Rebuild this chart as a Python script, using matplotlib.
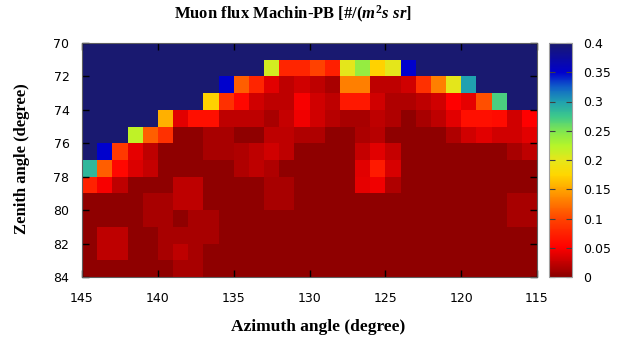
import numpy as np
import matplotlib
matplotlib.use("Agg")
import matplotlib.pyplot as plt
from matplotlib.colors import LinearSegmentedColormap

# Bin edges (degrees)
azimuth_edges = [145, 144, 143, 142, 141, 140, 139, 138, 137, 136, 135, 134, 133, 132, 131,
                 130, 129, 128, 127, 126, 125, 124, 123, 122, 121, 120, 119, 118, 117, 116, 115]
zenith_edges = [70, 71, 72, 73, 74, 75, 76, 77, 78, 79, 80, 81, 82, 83, 84]

# Muon flux per cell, one list per zenith row (70 -> 83), azimuth 145 -> 116
flux_70 = [0.40, 0.40, 0.40, 0.40, 0.40, 0.40, 0.40, 0.40, 0.40, 0.40, 0.40, 0.40, 0.40, 0.40, 0.40,
           0.40, 0.40, 0.40, 0.40, 0.40, 0.40, 0.40, 0.40, 0.40, 0.40, 0.40, 0.40, 0.40, 0.40, 0.40]
flux_71 = [0.40, 0.40, 0.40, 0.40, 0.40, 0.40, 0.40, 0.40, 0.40, 0.40, 0.40, 0.40, 0.21, 0.078, 0.078,
           0.098, 0.073, 0.20, 0.24, 0.172, 0.20, 0.35, 0.40, 0.40, 0.40, 0.40, 0.40, 0.40, 0.40, 0.40]
flux_72 = [0.40, 0.40, 0.40, 0.40, 0.40, 0.40, 0.40, 0.40, 0.40, 0.35, 0.114, 0.078, 0.038, 0.023, 0.031,
           0.023, 0.013, 0.131, 0.131, 0.023, 0.023, 0.030, 0.085, 0.131, 0.20, 0.30, 0.40, 0.40, 0.40, 0.40]
flux_73 = [0.40, 0.40, 0.40, 0.40, 0.40, 0.40, 0.40, 0.40, 0.172, 0.085, 0.055, 0.031, 0.023, 0.023, 0.048,
           0.031, 0.023, 0.068, 0.068, 0.030, 0.016, 0.016, 0.023, 0.031, 0.050, 0.040, 0.105, 0.27, 0.40, 0.40]
flux_74 = [0.40, 0.40, 0.40, 0.40, 0.40, 0.155, 0.038, 0.062, 0.062, 0.023, 0.023, 0.023, 0.013, 0.025, 0.045,
           0.030, 0.020, 0.013, 0.013, 0.023, 0.016, 0.003, 0.013, 0.023, 0.038, 0.062, 0.062, 0.058, 0.031, 0.050]
flux_75 = [0.40, 0.40, 0.40, 0.22, 0.114, 0.085, 0.003, 0.003, 0.013, 0.013, 0.003, 0.003, 0.023, 0.023, 0.016,
           0.016, 0.003, 0.003, 0.015, 0.020, 0.003, 0.003, 0.003, 0.003, 0.016, 0.031, 0.038, 0.031, 0.031, 0.038]
flux_76 = [0.40, 0.35, 0.092, 0.040, 0.023, 0.003, 0.003, 0.003, 0.013, 0.013, 0.016, 0.023, 0.031, 0.023, 0.003,
           0.003, 0.003, 0.003, 0.026, 0.038, 0.026, 0.003, 0.003, 0.003, 0.003, 0.003, 0.003, 0.003, 0.013, 0.023]
flux_77 = [0.285, 0.114, 0.055, 0.035, 0.025, 0.003, 0.003, 0.003, 0.003, 0.003, 0.016, 0.023, 0.016, 0.003, 0.003,
           0.003, 0.003, 0.003, 0.038, 0.070, 0.033, 0.003, 0.003, 0.003, 0.003, 0.003, 0.003, 0.003, 0.003, 0.003]
flux_78 = [0.075, 0.048, 0.023, 0.003, 0.003, 0.003, 0.023, 0.023, 0.003, 0.003, 0.003, 0.003, 0.013, 0.013, 0.003,
           0.003, 0.003, 0.003, 0.040, 0.045, 0.016, 0.003, 0.003, 0.003, 0.003, 0.003, 0.003, 0.003, 0.003, 0.003]
flux_79 = [0.003, 0.003, 0.003, 0.003, 0.013, 0.013, 0.023, 0.023, 0.003, 0.003, 0.003, 0.003, 0.013, 0.013, 0.003,
           0.003, 0.003, 0.003, 0.003, 0.003, 0.003, 0.003, 0.003, 0.003, 0.003, 0.003, 0.003, 0.003, 0.013, 0.013]
flux_80 = [0.003, 0.003, 0.003, 0.003, 0.013, 0.013, 0.003, 0.013, 0.013, 0.003, 0.003, 0.003, 0.003, 0.003, 0.003,
           0.003, 0.003, 0.003, 0.003, 0.003, 0.003, 0.003, 0.003, 0.003, 0.003, 0.003, 0.003, 0.003, 0.013, 0.013]
flux_81 = [0.003, 0.023, 0.023, 0.003, 0.003, 0.013, 0.013, 0.013, 0.013, 0.003, 0.003, 0.003, 0.003, 0.003, 0.003,
           0.003, 0.003, 0.003, 0.003, 0.003, 0.003, 0.003, 0.003, 0.003, 0.003, 0.003, 0.003, 0.003, 0.003, 0.003]
flux_82 = [0.003, 0.023, 0.023, 0.003, 0.003, 0.013, 0.023, 0.013, 0.003, 0.003, 0.003, 0.003, 0.003, 0.003, 0.003,
           0.003, 0.003, 0.003, 0.003, 0.003, 0.003, 0.003, 0.003, 0.003, 0.003, 0.003, 0.003, 0.003, 0.003, 0.003]
flux_83 = [0.003, 0.003, 0.003, 0.003, 0.003, 0.003, 0.013, 0.013, 0.003, 0.003, 0.003, 0.003, 0.003, 0.003, 0.003,
           0.003, 0.003, 0.003, 0.003, 0.003, 0.003, 0.003, 0.003, 0.003, 0.003, 0.003, 0.003, 0.003, 0.003, 0.003]

flux = np.array([flux_70, flux_71, flux_72, flux_73, flux_74, flux_75, flux_76,
                 flux_77, flux_78, flux_79, flux_80, flux_81, flux_82, flux_83])

cbar_ticks = [0, 0.05, 0.1, 0.15, 0.2, 0.25, 0.3, 0.35, 0.4]

# palette: dark red -> red -> orange -> yellow -> green -> teal -> blue -> midnight blue
palette = LinearSegmentedColormap.from_list("muon", [
    (0.000, "#8b0000"),
    (0.125, "#ff0000"),
    (0.250, "#ff4500"),
    (0.375, "#ffa500"),
    (0.4375, "#ffd700"),
    (0.500, "#e6e61a"),
    (0.5625, "#b4f52a"),
    (0.625, "#80e650"),
    (0.6875, "#3cc88c"),
    (0.750, "#20a0b0"),
    (0.8125, "#1060c8"),
    (0.875, "#0000cd"),
    (1.000, "#191970"),
])

plt.rcParams['mathtext.fontset'] = 'custom'
plt.rcParams['mathtext.it'] = 'Liberation Serif:italic:bold'
plt.rcParams['mathtext.rm'] = 'Liberation Serif:bold'

fig = plt.figure(figsize=(6.21, 3.41), dpi=100)
ax = fig.add_axes([82 / 621, 1 - 277 / 341, 455 / 621, 234 / 341])
cax = fig.add_axes([549 / 621, 1 - 277 / 341, 23 / 621, 234 / 341])

mesh = ax.pcolormesh(azimuth_edges, zenith_edges, flux, cmap=palette, vmin=0, vmax=0.4)
ax.set_xlim(145, 115)
ax.set_ylim(84, 70)
ax.set_xticks([145, 140, 135, 130, 125, 120, 115])
ax.set_yticks([70, 72, 74, 76, 78, 80, 82, 84])
ax.tick_params(direction='in', top=True, right=True, length=5, width=1, labelsize=9)
ax.tick_params(axis='x', pad=11)
ax.tick_params(axis='y', pad=9)
for s in ax.spines.values():
    s.set_color('#606060')

cb = fig.colorbar(mesh, cax=cax, ticks=cbar_ticks)
cb.ax.set_yticklabels(['%g' % t for t in cbar_ticks])
cb.ax.tick_params(direction='in', left=True, right=True, length=4, labelsize=9, pad=8, color='#404040')
cb.outline.set_edgecolor('#a0a0a0')

fig.text(293 / 621, 1 - 14 / 341, r"Muon flux Machin-PB [#/($m^2s\ sr$]", ha='center', va='center',
         family='Liberation Serif', fontweight='bold', fontsize=12)
fig.text(318 / 621, 1 - 327 / 341, "Azimuth angle (degree)", ha='center', va='center',
         family='Liberation Serif', fontweight='bold', fontsize=12.5)
fig.text(22 / 621, 1 - 159 / 341, "Zenith angle (degree)", ha='center', va='center', rotation=90,
         family='Liberation Serif', fontweight='bold', fontsize=12)

fig.savefig("out.png", dpi=100)
